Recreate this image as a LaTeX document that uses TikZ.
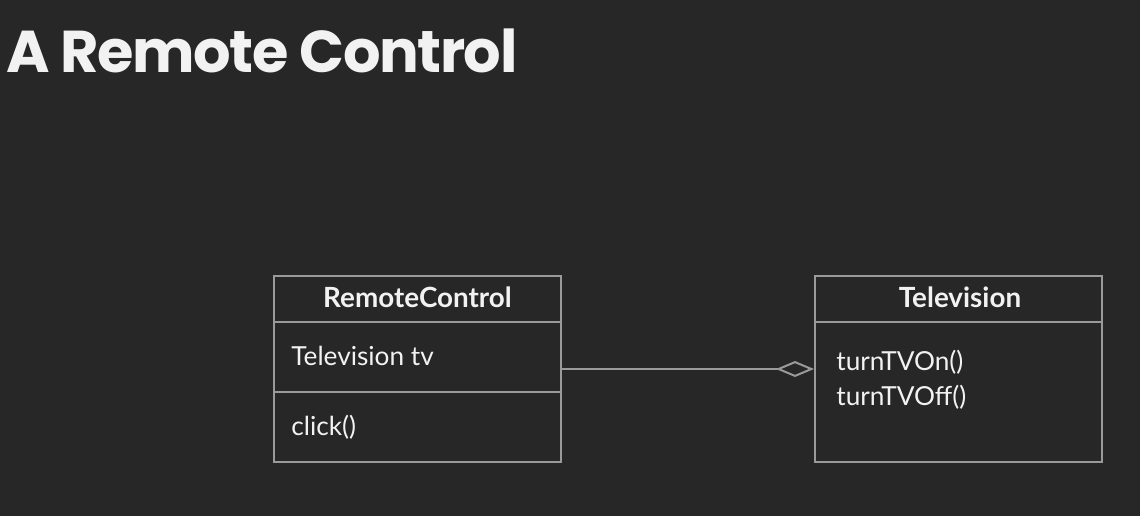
\documentclass[tikz,border=0pt]{standalone}
\usepackage{fontspec}
\setmainfont{Lato}
\newfontfamily\titlefont[LetterSpace=-2.5]{Poppins}
\usetikzlibrary{arrows.meta}
\definecolor{bgc}{HTML}{272727}
\definecolor{linec}{HTML}{9A9A9A}
\definecolor{txtc}{HTML}{F2F2F2}
\tikzset{
  umlbox/.style={draw=linec, line width=1pt, minimum width=143.5pt, minimum height=93pt, inner sep=0pt},
  headtxt/.style={text=txtc, font=\fontsize{13.9}{15}\selectfont\bfseries, anchor=base, inner sep=0pt},
  bodytxt/.style={text=txtc, font=\fontsize{13.1}{15}\selectfont, anchor=base west, inner sep=0pt},
  divider/.style={draw=linec, line width=1pt},
  aggr/.style={draw=linec, line width=1pt, -{Diamond[open, length=19pt, width=8pt]}}
}
\begin{document}
\begin{tikzpicture}[x=0.5pt, y=-0.5pt]
\fill[bgc] (0,0) rectangle (1140,516);
\useasboundingbox (0,0) rectangle (1140,516);
\node[text=txtc, font=\titlefont\fontsize{29.5}{36}\selectfont\bfseries, anchor=base west, inner sep=0pt] (title) at (6,72) {A Remote Control};
\node[umlbox] (rc) at (417.5,369) {};
\node[umlbox] (tv) at (958.5,369) {};
\coordinate (rcd1l) at (274,322); \coordinate (rcd1r) at (561,322);
\coordinate (rcd2l) at (274,392); \coordinate (rcd2r) at (561,392);
\coordinate (tvd1l) at (815,322); \coordinate (tvd1r) at (1102,322);
\draw[divider] (rcd1l) -- (rcd1r);
\draw[divider] (rcd2l) -- (rcd2r);
\draw[divider] (tvd1l) -- (tvd1r);
\node[headtxt] (rch) at (417.5,307) {RemoteControl};
\node[bodytxt] (rcf) at (291,365) {Television tv};
\node[bodytxt] (rcm) at (291,435) {click()};
\node[headtxt] (tvh) at (960,307) {Television};
\node[bodytxt] (tvm1) at (836,370) {turnTVOn()};
\node[bodytxt] (tvm2) at (836,405) {turnTVOff()};
\draw[aggr] (rc.east) -- (tv.west);
\end{tikzpicture}
\end{document}
